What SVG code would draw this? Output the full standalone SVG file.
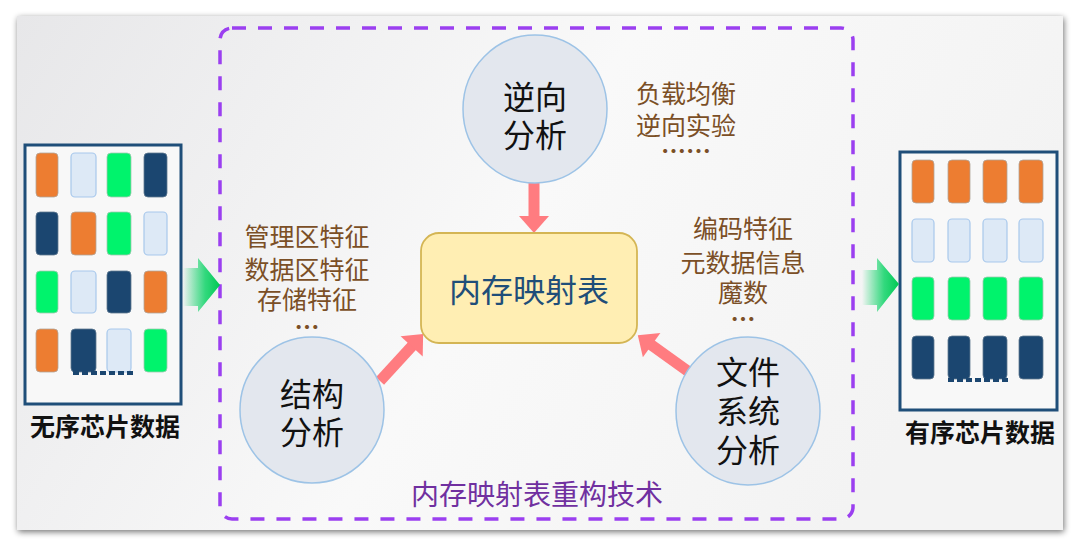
<svg xmlns="http://www.w3.org/2000/svg" width="1080" height="549" viewBox="0 0 1080 549">
<defs>
<linearGradient id="bg" x1="0" y1="0" x2="1" y2="0.3">
<stop offset="0" stop-color="#e7e7e9"/>
<stop offset="0.55" stop-color="#f9f9f9"/>
<stop offset="1" stop-color="#f3f3f3"/>
</linearGradient>
<linearGradient id="garrow" x1="0" y1="0" x2="1" y2="0">
<stop offset="0" stop-color="#00d060" stop-opacity="0"/>
<stop offset="0.6" stop-color="#10d468" stop-opacity="0.85"/>
<stop offset="1" stop-color="#00c853"/>
</linearGradient>
<filter id="sh" x="-5%" y="-5%" width="110%" height="110%">
<feGaussianBlur in="SourceAlpha" stdDeviation="3"/>
<feOffset dx="1" dy="2"/>
<feComponentTransfer><feFuncA type="linear" slope="0.55"/></feComponentTransfer>
<feMerge><feMergeNode/><feMergeNode in="SourceGraphic"/></feMerge>
</filter>
<marker id="ah" markerUnits="userSpaceOnUse" markerWidth="30" markerHeight="30" refX="2" refY="15" orient="auto" viewBox="0 0 17 30">
<path d="M0,0 L17,15 L0,30 Z" fill="#ff7c80"/>
</marker>
<style>
.o{fill:#ed7d31;stroke:#b0a49a;stroke-width:0.8}
.l{fill:#dde9f6;stroke:#a8c8ec;stroke-width:1.2}
.g{fill:#00f36c;stroke:#9ec9b0;stroke-width:0.8}
.n{fill:#1b4670;stroke:#5f7890;stroke-width:0.8}
.box{fill:#f8f8f8;stroke:#1f4e79;stroke-width:3}
.circ{fill:#e3e7ee;stroke:#9dc3e6;stroke-width:1.5}
.ct{font-family:"Noto Sans CJK SC","Noto Sans",sans-serif;font-size:32px;fill:#111;text-anchor:middle}
.br{font-family:"Noto Sans CJK SC","Noto Sans",sans-serif;font-size:25px;fill:#7b4f26;text-anchor:middle}
.lab{font-family:"Noto Sans CJK SC","Noto Sans",sans-serif;font-size:25px;font-weight:bold;fill:#111;text-anchor:middle}
.conn{stroke:#ff7c80;stroke-width:11;fill:none;marker-end:url(#ah)}
.dots{stroke:#1b4670;stroke-width:4;stroke-dasharray:6 3}
</style>
</defs>
<rect width="1080" height="549" fill="#ffffff"/>
<rect x="17" y="16" width="1046" height="514" fill="url(#bg)" filter="url(#sh)"/>

<rect x="220" y="28" width="633" height="491" rx="12" fill="none" stroke="#9b3ff0" stroke-width="3.5" stroke-dasharray="14 12"/>

<g id="unsorted">
<rect class="box" x="25" y="145" width="156" height="259"/>
<rect class="o" x="36" y="153" width="22" height="44" rx="4"/>
<rect class="l" x="71" y="153" width="25" height="44" rx="4"/>
<rect class="g" x="107" y="153" width="24" height="44" rx="4"/>
<rect class="n" x="144" y="153" width="23" height="44" rx="4"/>
<rect class="n" x="36" y="212" width="22" height="43" rx="4"/>
<rect class="o" x="71" y="212" width="25" height="43" rx="4"/>
<rect class="g" x="107" y="212" width="24" height="43" rx="4"/>
<rect class="l" x="144" y="212" width="23" height="43" rx="4"/>
<rect class="g" x="36" y="271" width="22" height="42" rx="4"/>
<rect class="l" x="71" y="271" width="25" height="42" rx="4"/>
<rect class="n" x="107" y="271" width="24" height="42" rx="4"/>
<rect class="o" x="144" y="271" width="23" height="42" rx="4"/>
<rect class="o" x="36" y="329" width="22" height="43" rx="4"/>
<rect class="n" x="71" y="329" width="25" height="43" rx="4"/>
<rect class="l" x="107" y="329" width="24" height="43" rx="4"/>
<rect class="g" x="144" y="329" width="23" height="43" rx="4"/>
<line class="dots" x1="73" y1="373" x2="133" y2="373"/>
<text class="lab" x="105" y="436">无序芯片数据</text>
</g>

<g id="sorted">
<rect class="box" x="900" y="152" width="157" height="258"/>
<rect class="o" x="912" y="160" width="22" height="43" rx="4"/>
<rect class="o" x="948" y="160" width="22" height="43" rx="4"/>
<rect class="o" x="983" y="160" width="24" height="43" rx="4"/>
<rect class="o" x="1019" y="160" width="24" height="43" rx="4"/>
<rect class="l" x="912" y="219" width="22" height="43" rx="4"/>
<rect class="l" x="948" y="219" width="22" height="43" rx="4"/>
<rect class="l" x="983" y="219" width="24" height="43" rx="4"/>
<rect class="l" x="1019" y="219" width="24" height="43" rx="4"/>
<rect class="g" x="912" y="277" width="22" height="43" rx="4"/>
<rect class="g" x="948" y="277" width="22" height="43" rx="4"/>
<rect class="g" x="983" y="277" width="24" height="43" rx="4"/>
<rect class="g" x="1019" y="277" width="24" height="43" rx="4"/>
<rect class="n" x="912" y="336" width="22" height="43" rx="4"/>
<rect class="n" x="948" y="336" width="22" height="43" rx="4"/>
<rect class="n" x="983" y="336" width="24" height="43" rx="4"/>
<rect class="n" x="1019" y="336" width="24" height="43" rx="4"/>
<line class="dots" x1="948" y1="380" x2="1008" y2="380"/>
<text class="lab" x="980" y="442">有序芯片数据</text>
</g>

<g id="flow-arrows">
<path d="M183,268 L198,268 L198,258 L220,285 L198,312 L198,306 L183,306 Z" fill="url(#garrow)"/>
<path d="M862,270 L877,270 L877,258 L899,284 L877,312 L877,305 L862,305 Z" fill="url(#garrow)"/>
</g>

<g id="connectors">
<line class="conn" x1="534" y1="183" x2="534" y2="218"/>
<line class="conn" x1="380" y1="381" x2="413" y2="345"/>
<line class="conn" x1="689" y1="372" x2="650" y2="344"/>
</g>

<g id="memmap">
<rect x="421" y="233" width="216" height="110" rx="18" fill="#ffeeb3" stroke="#d4b554" stroke-width="1.8"/>
<text x="529" y="302" font-family="&quot;Noto Sans CJK SC&quot;,&quot;Noto Sans&quot;,sans-serif" font-size="32" fill="#1f4e79" text-anchor="middle">内存映射表</text>
</g>

<g id="reverse">
<ellipse class="circ" cx="535" cy="109" rx="72" ry="74"/>
<text class="ct" x="535" y="109">逆向</text>
<text class="ct" x="535" y="147">分析</text>
</g>

<g id="structure">
<ellipse class="circ" cx="312" cy="410" rx="72" ry="73"/>
<text class="ct" x="312" y="406">结构</text>
<text class="ct" x="312" y="444">分析</text>
</g>

<g id="fs">
<ellipse class="circ" cx="748" cy="411" rx="72" ry="74"/>
<text class="ct" x="748" y="384">文件</text>
<text class="ct" x="748" y="423">系统</text>
<text class="ct" x="748" y="462">分析</text>
</g>

<g id="notes-left">
<text class="br" x="307" y="246">管理区特征</text>
<text class="br" x="307" y="279">数据区特征</text>
<text class="br" x="307" y="309">存储特征</text>
<text class="br" x="307" y="337" font-weight="bold" fill="#3a2410">…</text>
</g>

<g id="notes-top">
<text class="br" x="686" y="103">负载均衡</text>
<text class="br" x="686" y="135">逆向实验</text>
<text class="br" x="686" y="161" font-weight="bold" fill="#5a3a1a">……</text>
</g>

<g id="notes-right">
<text class="br" x="743" y="238">编码特征</text>
<text class="br" x="743" y="272">元数据信息</text>
<text class="br" x="743" y="302">魔数</text>
<text class="br" x="743" y="329" font-weight="bold" fill="#3a2410">…</text>
</g>

<text x="537" y="505" font-family="&quot;Noto Sans CJK SC&quot;,&quot;Noto Sans&quot;,sans-serif" font-size="28" fill="#7030a0" text-anchor="middle">内存映射表重构技术</text>
</svg>
